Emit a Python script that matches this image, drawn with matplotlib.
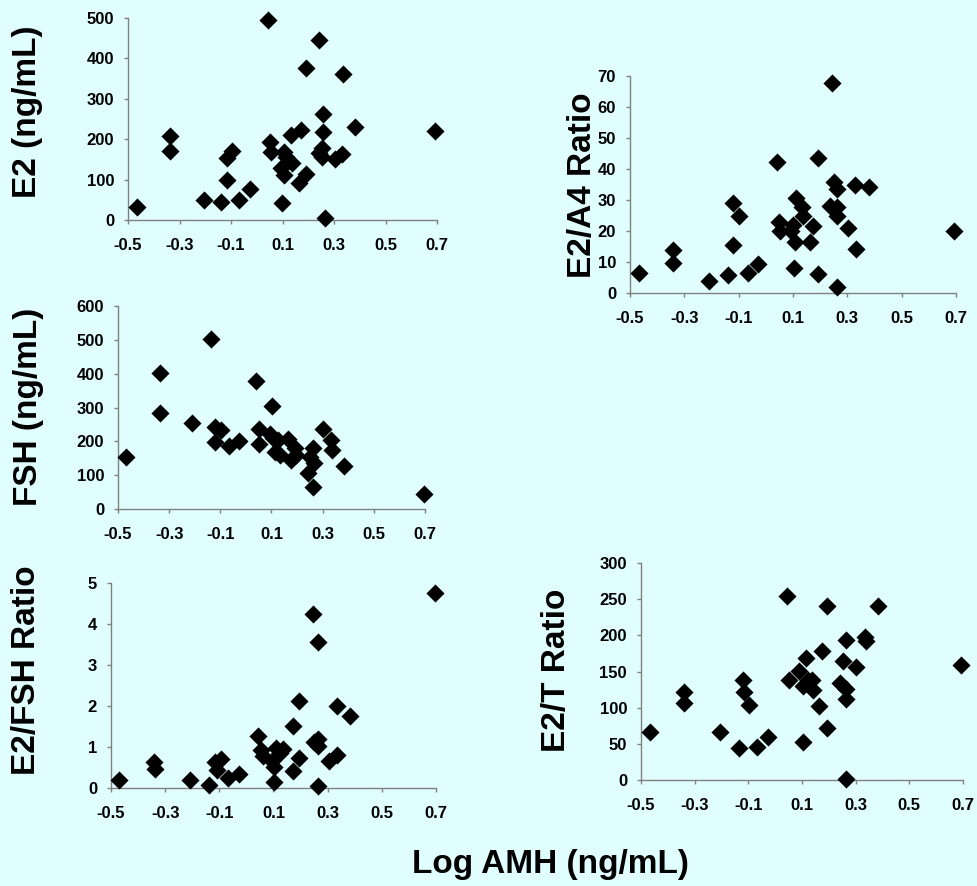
import matplotlib
matplotlib.use("Agg")
import matplotlib.pyplot as plt

# Log AMH (ng/mL) vs. hormone levels / ratios
e2_x = [-0.464, -0.338, -0.338, -0.206, -0.138, -0.114, -0.114, -0.096, -0.069, -0.028,
        0.045, 0.050, 0.054, 0.093, 0.099, 0.105, 0.105, 0.115, 0.133, 0.138, 0.164,
        0.172, 0.193, 0.193, 0.242, 0.240, 0.255, 0.257, 0.257, 0.255, 0.264, 0.305,
        0.331, 0.335, 0.382, 0.693]
e2_y = [31, 209, 172, 49, 45, 98, 153, 172, 49, 77,
        494, 192, 169, 128, 41, 112, 169, 155, 211, 140, 91,
        224, 377, 114, 445, 165, 178, 262, 217, 157, 4, 152,
        164, 362, 230, 221]

a4_x = [-0.467, -0.340, -0.340, -0.208, -0.138, -0.120, -0.120, -0.099, -0.064, -0.028,
        0.042, 0.048, 0.052, 0.091, 0.101, 0.105, 0.107, 0.111, 0.132, 0.138, 0.172,
        0.164, 0.193, 0.193, 0.242, 0.236, 0.251, 0.261, 0.263, 0.263, 0.261, 0.304,
        0.328, 0.332, 0.381, 0.694]
a4_y = [6.6, 13.9, 9.6, 4.0, 5.7, 15.5, 28.9, 24.7, 6.6, 9.5,
        42.3, 23.0, 20.0, 20.0, 22.0, 8.0, 16.6, 30.5, 27.9, 25.0, 21.6,
        16.3, 43.7, 6.1, 67.8, 28.1, 35.9, 27.9, 33.4, 25.0, 1.8, 20.9,
        34.8, 14.1, 34.3, 20.0]

fsh_x = [-0.467, -0.337, -0.337, -0.210, -0.137, -0.122, -0.096, -0.122, -0.066, -0.027,
         0.041, 0.103, 0.051, 0.051, 0.093, 0.105, 0.125, 0.112, 0.132, 0.164, 0.190,
         0.177, 0.197, 0.262, 0.249, 0.268, 0.242, 0.262, 0.301, 0.334, 0.337, 0.382,
         0.695]
fsh_y = [155, 401, 285, 255, 502, 241, 234, 199, 186, 201,
         379, 304, 236, 191, 222, 209, 204, 169, 160, 206, 179,
         145, 160, 179, 155, 137, 105, 66, 236, 204, 174, 127,
         44]

fshr_x = [-0.469, -0.341, -0.339, -0.208, -0.137, -0.116, -0.110, -0.095, -0.067, -0.026,
          0.044, 0.054, 0.062, 0.102, 0.102, 0.093, 0.109, 0.124, 0.134, 0.171, 0.173,
          0.194, 0.195, 0.247, 0.250, 0.266, 0.266, 0.266, 0.266, 0.306, 0.336, 0.336,
          0.382, 0.696]
fshr_y = [0.20, 0.63, 0.46, 0.19, 0.07, 0.63, 0.45, 0.71, 0.24, 0.34,
          1.28, 0.92, 0.79, 0.14, 0.51, 0.67, 0.98, 0.85, 0.95, 0.41, 1.52,
          2.11, 0.73, 4.25, 1.11, 1.20, 1.02, 3.55, 0.04, 0.65, 0.81, 2.01,
          1.76, 4.76]

t_x = [-0.465, -0.339, -0.339, -0.207, -0.134, -0.121, -0.118, -0.096, -0.066, -0.025,
       0.043, 0.053, 0.090, 0.105, 0.102, 0.115, 0.123, 0.136, 0.140, 0.164, 0.173,
       0.192, 0.195, 0.241, 0.254, 0.264, 0.264, 0.264, 0.264, 0.303, 0.334, 0.338,
       0.384, 0.694]
t_y = [66, 122, 106, 66, 44, 138, 122, 104, 46, 60,
       254, 138, 151, 53, 130, 168, 138, 138, 124, 102, 178,
       240, 72, 134, 164, 194, 126, 112, 2, 156, 198, 192,
       241, 159]

x_ticks = [-0.5, -0.3, -0.1, 0.1, 0.3, 0.5, 0.7]
bg = "#e1fefe"
W, H = 978, 886

plt.rcParams["font.family"] = ["Liberation Sans", "DejaVu Sans"]
plt.rcParams["font.weight"] = "bold"

fig = plt.figure(figsize=(W / 100, H / 100), dpi=100, facecolor=bg)


def panel(box, xs, ys, ylim, yticks, label, label_xy):
    left, right, top, bottom = box
    ax = fig.add_axes([left / W, 1 - bottom / H, (right - left) / W, (bottom - top) / H])
    ax.set_facecolor(bg)
    ax.scatter(xs, ys, marker="D", s=85, color="black", linewidths=0,
               zorder=3, clip_on=False)
    ax.set_xlim(-0.5, 0.7)
    ax.set_ylim(*ylim)
    ax.set_xticks(x_ticks)
    ax.set_xticklabels([f"{t:.1f}" for t in x_ticks])
    ax.set_yticks(yticks)
    for s in ["top", "right"]:
        ax.spines[s].set_visible(False)
    for s in ["left", "bottom"]:
        ax.spines[s].set_color("#808080")
        ax.spines[s].set_linewidth(1)
    ax.tick_params(direction="out", length=3, width=1, color="#808080", labelsize=12)
    ax.tick_params(axis="x", pad=10)
    ax.tick_params(axis="y", pad=7)
    for lab in ax.get_xticklabels() + ax.get_yticklabels():
        lab.set_fontweight("bold")
    fig.text(label_xy[0] / W, 1 - label_xy[1] / H, label, rotation=90,
             ha="center", va="center", fontsize=24, fontweight="bold")
    return ax


panel((128, 437, 18, 220), e2_x, e2_y, (0, 500), range(0, 501, 100),
      "E2 (ng/mL)", (28, 112))
panel((630, 956, 76, 293), a4_x, a4_y, (0, 70), range(0, 71, 10),
      "E2/A4 Ratio", (583, 185))
panel((118, 425, 306, 509), fsh_x, fsh_y, (0, 600), range(0, 601, 100),
      "FSH (ng/mL)", (29, 407))
panel((111, 436, 583, 788), fshr_x, fshr_y, (0, 5), range(0, 6),
      "E2/FSH Ratio", (27, 670))
panel((641, 963, 563, 780), t_x, t_y, (0, 300), range(0, 301, 50),
      "E2/T Ratio", (557, 670))

fig.text(550 / W, 1 - 864 / H, "Log AMH (ng/mL)", ha="center", va="center",
         fontsize=24, fontweight="bold")

fig.savefig("out.png", dpi=100, facecolor=bg)
